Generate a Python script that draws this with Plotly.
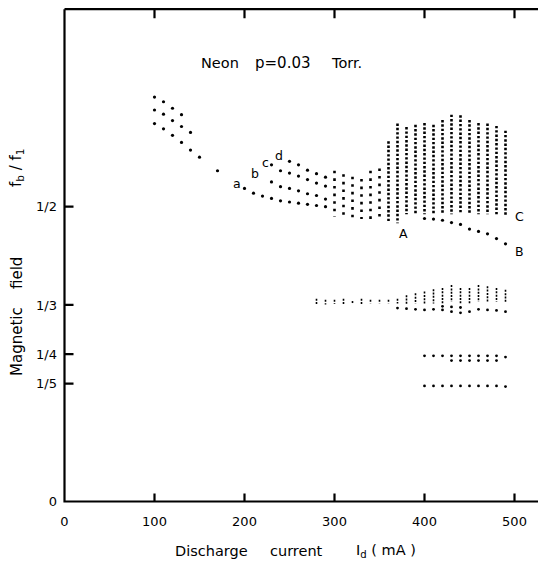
import plotly.graph_objects as go

# ---- data (discharge current in mA, fb/f1) ----
fan_I = [100, 110, 120, 130, 100, 110, 120, 130, 140, 100, 110, 120, 130, 140, 150, 170]
fan_v = [0.686, 0.678, 0.667, 0.656, 0.664, 0.657, 0.646, 0.636, 0.626,
         0.641, 0.632, 0.621, 0.609, 0.596, 0.584, 0.561]

a_I = [200, 210, 220, 230, 240, 250, 260, 270, 280, 290]
a_v = [0.531, 0.523, 0.518, 0.514, 0.510, 0.508, 0.506, 0.504, 0.502, 0.500]
b_I = [230, 240, 250, 260, 270, 280, 290]
b_v = [0.542, 0.534, 0.531, 0.527, 0.522, 0.519, 0.513]
c_I = [230, 240, 250, 260, 270, 280, 290]
c_v = [0.571, 0.561, 0.557, 0.552, 0.546, 0.540, 0.535]
d_I = [250, 260, 270, 280, 290]
d_v = [0.577, 0.571, 0.562, 0.556, 0.550]

mid_I = [300, 310, 320, 330, 340, 350]
mid_top = [0.561, 0.555, 0.551, 0.547, 0.561, 0.565]
mid_bot = [0.483, 0.482, 0.480, 0.479, 0.478, 0.477]

band_I = [360, 370, 380, 390, 400, 410, 420, 430, 440, 450, 460, 470, 480, 490]
band_top = [0.611, 0.641, 0.635, 0.639, 0.642, 0.639, 0.647, 0.656, 0.655, 0.647, 0.642, 0.641, 0.637, 0.629]
band_bot = [0.474, 0.472, 0.487, 0.487, 0.487, 0.487, 0.487, 0.487, 0.487, 0.487, 0.487, 0.487, 0.487, 0.486]

B_I = [400, 410, 420, 430, 440, 450, 460, 470, 480, 490]
B_v = [0.480, 0.479, 0.477, 0.473, 0.470, 0.462, 0.458, 0.454, 0.446, 0.437]

third_I = [280, 290, 300, 310, 320, 330, 340, 350, 360, 370, 380, 390, 400, 410, 420, 430, 440, 450, 460, 470, 480, 490]
third_lo = [0.334, 0.334, 0.335, 0.334, 0.336, 0.335, 0.336, 0.336, 0.336, 0.336, 0.335, 0.336, 0.334, 0.336,
            0.336, 0.339, 0.336, 0.336, 0.339, 0.339, 0.339, 0.339]
third_hi = [0.344, 0.342, 0.342, 0.344, 0.340, 0.344, 0.342, 0.342, 0.342, 0.344, 0.350, 0.353, 0.356, 0.360,
            0.362, 0.367, 0.362, 0.362, 0.367, 0.365, 0.362, 0.359]
third2_I = [370, 380, 390, 400, 410, 420, 420, 430, 430, 440, 440, 450, 460, 470, 480, 490]
third2_v = [0.328, 0.327, 0.326, 0.325, 0.326, 0.331, 0.325, 0.330, 0.322, 0.329, 0.320, 0.322, 0.326, 0.325, 0.324, 0.322]

quarter_I = [400, 410, 420, 430, 440, 450, 460, 470, 480, 490, 430, 440, 450, 460, 470, 480]
quarter_v = [0.247, 0.247, 0.247, 0.247, 0.247, 0.247, 0.247, 0.247, 0.247, 0.245,
             0.239, 0.239, 0.239, 0.239, 0.239, 0.239]

fifth_I = [400, 410, 420, 430, 440, 450, 460, 470, 480, 490]
fifth_v = [0.196, 0.196, 0.196, 0.196, 0.196, 0.196, 0.196, 0.196, 0.196, 0.195]

ytick_vals = [0, 1/5, 1/4, 1/3, 1/2]
ytick_text = ["0", "1/5", "1/4", "1/3", "1/2"]
xtick_vals = [0, 100, 200, 300, 400, 500]

# ---- layout geometry (page body adds an 8px offset) ----
OFF = 8
W, H = 538, 556
PX_PER_MA = 0.9
PX_PER_UNIT = 589.6
PAD = 2.5                       # plot area extends a little past the frame so it is not clipped
X0_FIG = 64.5 - OFF             # figure x of I = 0
Y0_FIG = 501.5 - OFF            # figure y of fb/f1 = 0
ML = X0_FIG - PAD
MT = 0
MR = 0
MB = H - (Y0_FIG + PAD)
PW, PH = W - ML - MR, H - MT - MB
XMIN = -PAD / PX_PER_MA
XMAX = XMIN + PW / PX_PER_MA
YMIN = -PAD / PX_PER_UNIT
YMAX = YMIN + PH / PX_PER_UNIT
YTOP = YMAX - 1.2 / PX_PER_UNIT  # top frame line


def column_trace(xs, lows, highs, width, dash):
    px, py = [], []
    for x, lo, hi in zip(xs, lows, highs):
        px += [x, x, None]
        py += [hi, lo, None]
    return go.Scatter(x=px, y=py, mode="lines", connectgaps=False,
                      line=dict(color="black", width=width, dash=dash),
                      hoverinfo="skip", showlegend=False)


def dots(xs, ys, size=3.2):
    return go.Scatter(x=xs, y=ys, mode="markers",
                      marker=dict(color="black", size=size, line=dict(width=0)),
                      hoverinfo="skip", showlegend=False)


# frame (left, bottom, top) with its inward ticks as one continuous path on the axes' scales
fx, fy = [], []
# left side, drawn top to bottom with tick spurs
fx += [0, 0]
fy += [YTOP, 0.5]
for v in sorted(ytick_vals[1:], reverse=True):
    fx += [0, 9 / PX_PER_MA, 0]
    fy += [v, v, v]
fx += [0]
fy += [0]
# bottom side with tick spurs
for tv in xtick_vals[1:]:
    fx += [tv, tv, tv]
    fy += [0, 8 / PX_PER_UNIT, 0]
fx += [XMAX, None]
fy += [0, None]
# top side with tick spurs
fx += [0]
fy += [YTOP]
for tv in xtick_vals[1:]:
    fx += [tv, tv, tv]
    fy += [YTOP, YTOP - 9 / PX_PER_UNIT, YTOP]
fx += [XMAX, None]
fy += [YTOP, None]
# right-hand inward ticks (right frame line itself lies beyond the picture)
for v in ytick_vals[1:]:
    fx += [XMAX - 6 / PX_PER_MA, XMAX, None]
    fy += [v, v, None]

fig = go.Figure()
fig.add_trace(go.Scatter(x=fx, y=fy, mode="lines", connectgaps=False,
                         line=dict(color="black", width=2.2, simplify=False),
                         hoverinfo="skip", showlegend=False))

fig.add_trace(dots(fan_I, fan_v))
for xs, ys in [(a_I, a_v), (b_I, b_v), (c_I, c_v), (d_I, d_v)]:
    fig.add_trace(dots(xs, ys))
fig.add_trace(column_trace(mid_I, mid_bot, mid_top, 2.6, "2.6px,5px"))
fig.add_trace(column_trace(band_I, band_bot, band_top, 2.6, "2.4px,1.9px"))
fig.add_trace(dots(B_I, B_v))
fig.add_trace(column_trace(third_I, third_lo, third_hi, 1.6, "2px,1.3px"))
fig.add_trace(dots(third2_I, third2_v, 2.8))
fig.add_trace(dots(quarter_I, quarter_v, 2.8))
fig.add_trace(dots(fifth_I, fifth_v, 2.8))

FONT = "DejaVu Sans"

fig.update_layout(
    width=W, height=H,
    margin=dict(l=ML, r=MR, t=MT, b=MB, pad=0),
    paper_bgcolor="white", plot_bgcolor="white",
    font=dict(family=FONT, size=13, color="black"),
    xaxis=dict(range=[XMIN, XMAX], tickvals=xtick_vals, ticks="", showline=False,
               showgrid=False, zeroline=False, ticklabelstandoff=8,
               tickfont=dict(size=13)),
    yaxis=dict(range=[YMIN, YMAX], tickvals=ytick_vals, ticktext=ytick_text,
               ticks="", showline=False, showgrid=False, zeroline=False,
               ticklabelstandoff=4, tickfont=dict(size=13)),
)


def scr(sx, sy):
    """screen pixel -> paper coords"""
    return (sx - OFF - ML) / PW, 1 - (sy - OFF - MT) / PH


ann = [
    dict(text="Neon", x=220, y=63, size=14.5),
    dict(text="p=0.03", x=283, y=63, size=15),
    dict(text="Torr.", x=346, y=63, size=14.5),
    dict(text="Discharge", x=211, y=551, size=14.5),
    dict(text="current", x=296, y=551, size=14.5),
    dict(text="I<sub>d</sub> ( mA )", x=386, y=551, size=14.5),
    dict(text="Magnetic", x=17, y=342, size=15, angle=-90),
    dict(text="field", x=17, y=273, size=15, angle=-90),
    dict(text="f<sub>b</sub> / f<sub>1</sub>", x=17, y=168, size=15, angle=-90),
]
for a in ann:
    px, py = scr(a["x"], a["y"])
    fig.add_annotation(xref="paper", yref="paper", x=px, y=py,
                       text=a["text"], showarrow=False, textangle=a.get("angle", 0),
                       font=dict(size=a["size"], family=FONT, color="black"),
                       xanchor="center", yanchor="middle")

# curve labels
curve_labels = [("a", 191.7, 0.539), ("b", 211.7, 0.557), ("c", 223.3, 0.5745), ("d", 238, 0.5876),
                ("A", 377, 0.455), ("B", 505, 0.424), ("C", 506, 0.483)]
for t, x, y in curve_labels:
    fig.add_annotation(x=x, y=y, text=t, showarrow=False,
                       font=dict(size=12.5, family=FONT, color="black"),
                       xanchor="center", yanchor="middle")

fig.write_html("out.html")
